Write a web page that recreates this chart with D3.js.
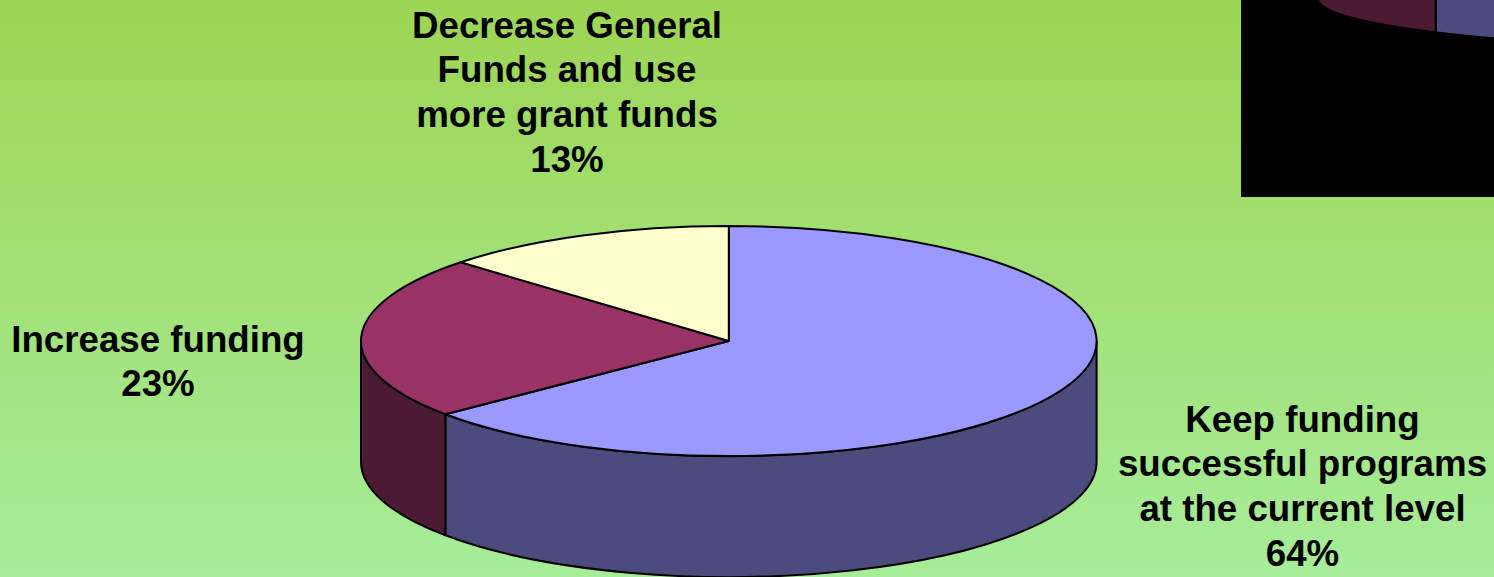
<!DOCTYPE html>
<html>
<head>
<meta charset="utf-8">
<script src="https://cdn.jsdelivr.net/npm/d3@7"></script>
<style>
  html, body { margin: 0; padding: 0; overflow: hidden; }
  svg { display: block; }
  text { font-family: "Liberation Sans", Arial, sans-serif; font-weight: bold; }
</style>
</head>
<body>
<svg id="chart" width="1494" height="577"></svg>
<script>
// Survey responses on program funding
const categories = [
  "Keep funding successful programs at the current level",
  "Increase funding",
  "Decrease General Funds and use more grant funds"
];
const labelLines = [
  ["Keep funding", "successful programs", "at the current level"],
  ["Increase funding"],
  ["Decrease General", "Funds and use", "more grant funds"]
];
const values = [64, 23, 13];
const topColors = ["#9999ff", "#993366", "#ffffcc"];
const sideColors = ["#4b4c7d", "#4b1a33", "#7f7f66"];

const W = 1494, H = 577;
const svg = d3.select("#chart");

// background gradient
const defs = svg.append("defs");
const grad = defs.append("linearGradient")
  .attr("id", "bg").attr("x1", 0).attr("y1", 0).attr("x2", 0).attr("y2", 1);
grad.append("stop").attr("offset", "0%").attr("stop-color", "#9dd553");
grad.append("stop").attr("offset", "100%").attr("stop-color", "#a6ed9a");
svg.append("rect").attr("width", W).attr("height", H).attr("fill", "url(#bg)");

const pie = d3.pie().sort(null).startAngle(0).endAngle(2 * Math.PI);
const arcs = pie(values);

function pt(a, cx, cy, rx, ry) {
  return [cx + rx * Math.sin(a), cy - ry * Math.cos(a)];
}

// draws a tilted 3D pie: front side walls first, then the top wedges
function drawPie3D(g, geo) {
  const { cx, cy, rx, ry, depth } = geo;
  const lo = Math.PI / 2, hi = 3 * Math.PI / 2;

  g.selectAll("path.side")
    .data(arcs.filter(d => d.endAngle > lo && d.startAngle < hi))
    .join("path")
    .attr("class", "side")
    .attr("fill", d => sideColors[d.index])
    .attr("stroke", "#000")
    .attr("stroke-width", 2)
    .attr("stroke-linejoin", "round")
    .attr("d", d => {
      const s = Math.max(d.startAngle, lo), e = Math.min(d.endAngle, hi);
      const p0 = pt(s, cx, cy, rx, ry), p1 = pt(e, cx, cy, rx, ry);
      const q1 = pt(e, cx, cy + depth, rx, ry), q0 = pt(s, cx, cy + depth, rx, ry);
      return `M${p0}A${rx},${ry} 0 0 1 ${p1}L${q1}A${rx},${ry} 0 0 0 ${q0}Z`;
    });

  g.selectAll("path.top")
    .data(arcs)
    .join("path")
    .attr("class", "top")
    .attr("fill", d => topColors[d.index])
    .attr("stroke", "#000")
    .attr("stroke-width", 2)
    .attr("stroke-linejoin", "round")
    .attr("d", d => {
      const p0 = pt(d.startAngle, cx, cy, rx, ry), p1 = pt(d.endAngle, cx, cy, rx, ry);
      const large = d.endAngle - d.startAngle > Math.PI ? 1 : 0;
      return `M${cx},${cy}L${p0}A${rx},${ry} 0 ${large} 1 ${p1}Z`;
    });
}

// main chart
drawPie3D(svg.append("g"), { cx: 728.8, cy: 341, rx: 367.8, ry: 115, depth: 121 });

// inset panel in the upper right corner showing part of an enlarged copy
const inset = { x: 1241, y: 0, w: 253, h: 197 };
defs.append("clipPath").attr("id", "insetClip")
  .append("rect").attr("x", inset.x).attr("y", inset.y).attr("width", inset.w).attr("height", inset.h);
const ig = svg.append("g").attr("clip-path", "url(#insetClip)");
ig.append("rect").attr("x", inset.x).attr("y", inset.y).attr("width", inset.w).attr("height", inset.h).attr("fill", "#000");
drawPie3D(ig.append("g"), { cx: 1831, cy: -161, rx: 513, ry: 52, depth: 160 });

// data labels
const fmt = v => d3.format(".0f")(v) + "%";
const labelPos = [
  { x: 1302.5, y: 431.5 },
  { x: 158, y: 351.5 },
  { x: 567, y: 37.5 }
];
const lineH = 44.7;
const lbl = svg.append("g").selectAll("text")
  .data(arcs)
  .join("text")
  .attr("text-anchor", "middle")
  .attr("font-size", "36.7px")
  .attr("fill", "#000")
  .attr("x", d => labelPos[d.index].x)
  .attr("y", d => labelPos[d.index].y);
lbl.selectAll("tspan")
  .data(d => labelLines[d.index].concat([fmt(d.value)]).map(t => ({ t, p: labelPos[d.index] })))
  .join("tspan")
  .attr("x", d => d.p.x)
  .attr("dy", (d, i) => i === 0 ? 0 : lineH)
  .text(d => d.t);
</script>
</body>
</html>
